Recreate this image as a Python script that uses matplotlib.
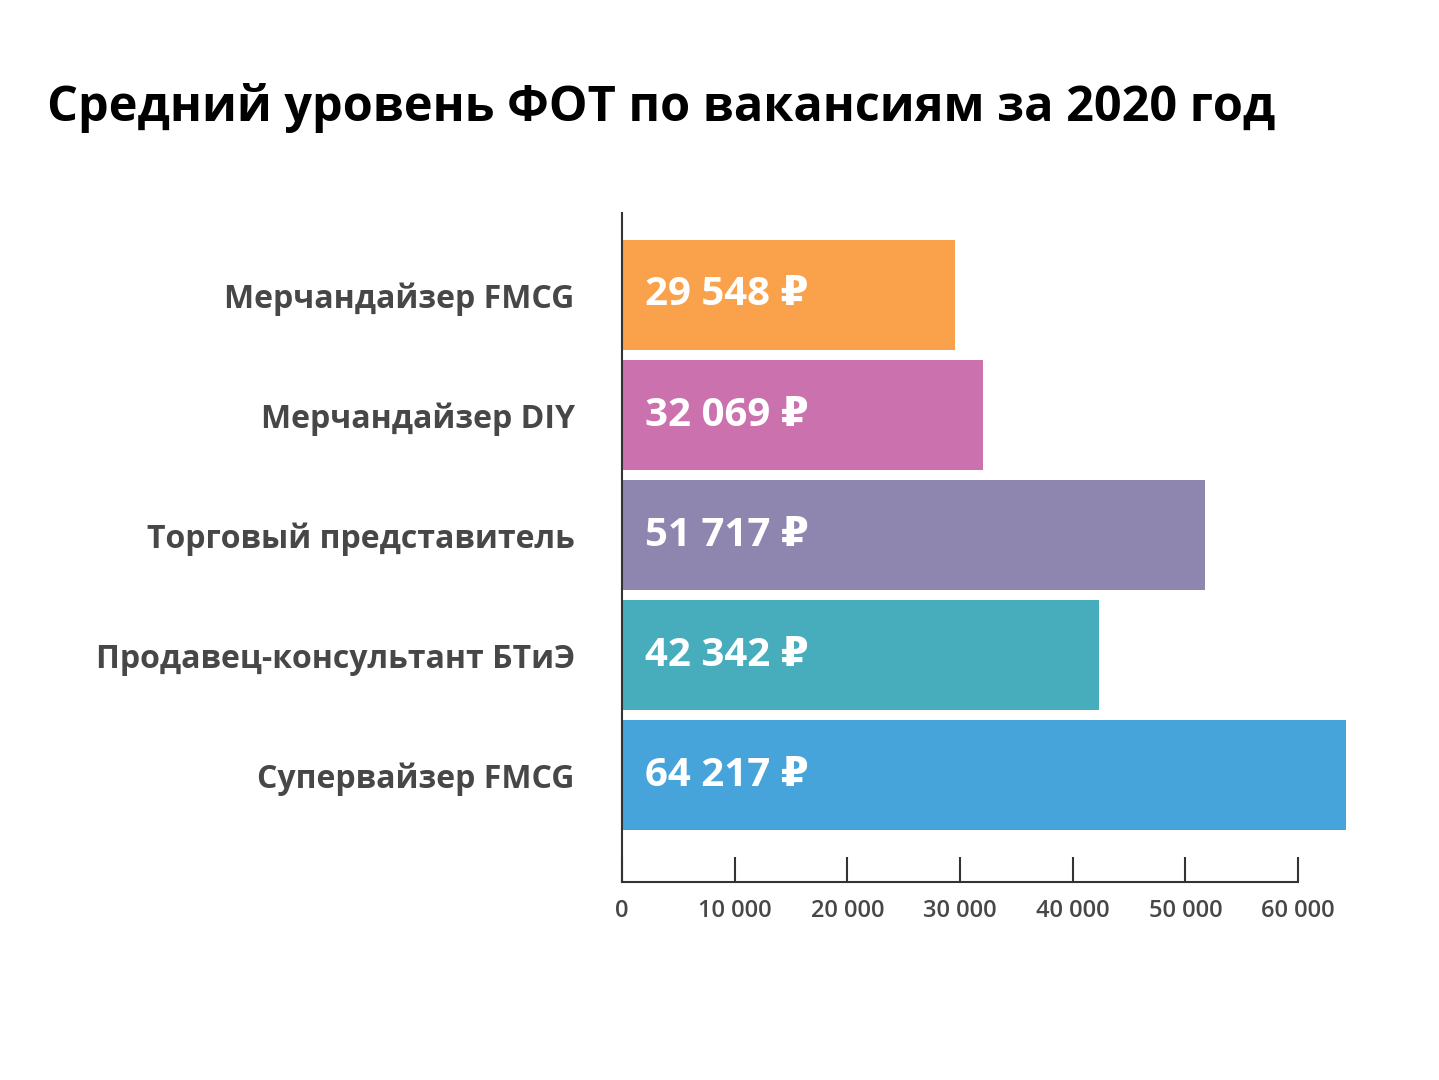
import matplotlib
matplotlib.use("Agg")
import matplotlib.pyplot as plt

categories = ["Мерчандайзер FMCG", "Мерчандайзер DIY", "Торговый представитель",
              "Продавец-консультант БТиЭ", "Супервайзер FMCG"]
values = [29548, 32069, 51717, 42342, 64217]
value_labels = ["29 548 ₽", "32 069 ₽", "51 717 ₽", "42 342 ₽", "64 217 ₽"]
colors = ["#F9A24B", "#CB72AE", "#8E86AE", "#47ADBC", "#47A4DA"]
ticks = [0, 10000, 20000, 30000, 40000, 50000, 60000]
tick_labels = ["0", "10 000", "20 000", "30 000", "40 000", "50 000", "60 000"]

fam = ["Open Sans", "DejaVu Sans"]
plt.rcParams["font.family"] = fam

fig = plt.figure(figsize=(14.39, 10.8), dpi=100)
fig.patch.set_facecolor("white")
ax = fig.add_axes([622/1439, 1-882/1080, 724.5/1439, 669/1080])
pos = list(range(len(values)))
ax.barh(pos, values, height=0.92, color=colors)
for p, v, lab in zip(pos, values, value_labels):
    ax.text(2000, p, lab, color="white", fontsize=29, fontweight="bold", va="center", ha="left")
ax.set_ylim(4.89, -0.683)
ax.set_xlim(0, 64300)
ax.set_yticks(pos)
ax.set_yticklabels(categories, fontsize=23, fontweight="bold", color="#474747")
ax.tick_params(axis="y", length=0, pad=34)
ax.set_xticks(ticks)
ax.set_xticklabels(tick_labels, fontsize=17, fontweight="semibold", color="#474747")
ax.tick_params(axis="x", direction="in", length=18, width=1.5, color="#333333", pad=12)
for s in ["top", "right"]:
    ax.spines[s].set_visible(False)
ax.spines["bottom"].set_bounds(0, 60000)
for s in ["left", "bottom"]:
    ax.spines[s].set_linewidth(1.5)
    ax.spines[s].set_color("#333333")
fig.text(47/1439, 1-108/1080, "Средний уровень ФОТ по вакансиям за 2020 год",
         fontsize=35, fontweight="bold", color="black", va="center", ha="left")
fig.savefig("out.png", dpi=100, facecolor="white")
